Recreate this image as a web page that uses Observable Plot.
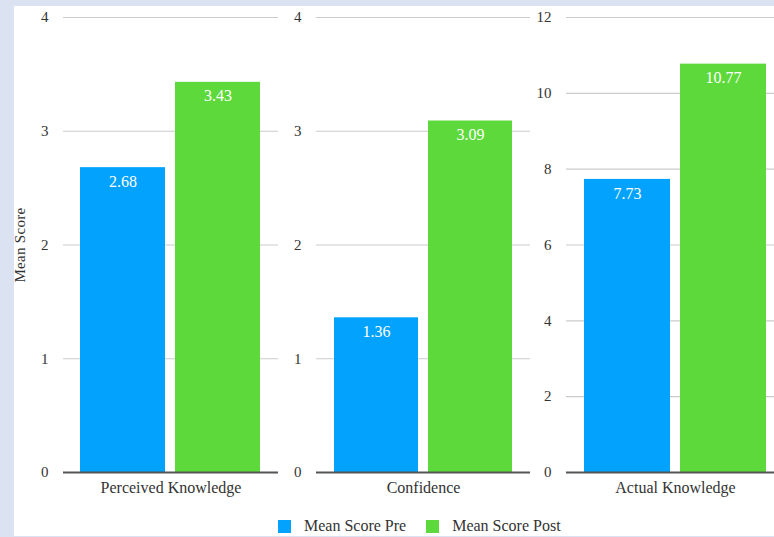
<!DOCTYPE html>
<html>
<head>
<meta charset="utf-8">
<script src="https://cdn.jsdelivr.net/npm/d3@7"></script>
<script src="https://cdn.jsdelivr.net/npm/@observablehq/plot@0.6"></script>
<style>
  html, body { margin: 0; padding: 0; width: 774px; height: 537px; overflow: hidden; background: #dbe3f3; }
  #page { position: relative; width: 774px; height: 537px; font-family: "Liberation Serif", serif; }
  #white { position: absolute; left: 14px; top: 6px; width: 760px; height: 530px; background: #fff; }
  .panel { position: absolute; top: 0; }
  #ylab { position: absolute; left: 20px; top: 245px; transform: translate(-50%, -50%) rotate(-90deg); font-size: 15px; letter-spacing: 0.3px; color: #333; white-space: nowrap; }
  #legend { position: absolute; top: 517px; left: 278px; display: flex; align-items: center; font-size: 16px; line-height: 18px; color: #333; }
  #legend .sw { width: 13px; height: 13px; display: inline-block; margin-right: 13px; }
  #legend .item { display: flex; align-items: center; margin-right: 20px; }
</style>
</head>
<body>
<div id="page">
  <div id="white"></div>
  <div id="ylab">Mean Score</div>
  <div id="legend"></div>
</div>
<script>
const categories = ["Perceived Knowledge", "Confidence", "Actual Knowledge"];
const series = ["Mean Score Pre", "Mean Score Post"];
const preValues = [2.68, 1.36, 7.73];
const postValues = [3.43, 3.09, 10.77];
const yMax = [4, 4, 12];
const yTicks = [[0, 1, 2, 3, 4], [0, 1, 2, 3, 4], [0, 2, 4, 6, 8, 10, 12]];
const colors = ["#03a2fd", "#5ed93b"];

const layouts = [
  {left: 14, width: 266, marginLeft: 49, marginRight: 2},
  {left: 280, width: 252, marginLeft: 36, marginRight: 2},
  {left: 532, width: 252, marginLeft: 34, marginRight: 0}
];

const page = document.getElementById("page");

categories.forEach((cat, i) => {
  const rows = [
    {series: series[0], value: preValues[i]},
    {series: series[1], value: postValues[i]}
  ];
  const L = layouts[i];
  const chart = Plot.plot({
    width: L.width,
    height: 510,
    marginLeft: L.marginLeft,
    marginRight: L.marginRight,
    marginTop: 17,
    marginBottom: 38,
    style: {fontFamily: "Liberation Serif, serif", fontSize: "15px", color: "#333", background: "transparent"},
    x: {domain: series, paddingInner: 0.105, paddingOuter: 0.18, axis: null},
    y: {domain: [0, yMax[i]], ticks: yTicks[i], axis: null},
    color: {domain: series, range: colors},
    marks: [
      Plot.gridY(yTicks[i], {stroke: "#cccccc", strokeOpacity: 1, strokeWidth: 1.2}),
      Plot.axisY(yTicks[i], {tickSize: 0, tickPadding: 15, label: null, fontSize: 15, tickFormat: d => String(d), fill: "#333"}),
      Plot.barY(rows, {x: "series", y: "value", fill: "series"}),
      Plot.ruleY([0], {stroke: "#555", strokeWidth: 2}),
      Plot.text(rows, {x: "series", y: "value", text: d => d.value.toFixed(2), dy: 14, fill: "white", fontSize: 16}),
      Plot.text([cat], {text: d => d, frameAnchor: "bottom", dy: 20, fill: "#333", fontSize: 16, style: "letter-spacing: 0.5px"})
    ]
  });
  chart.classList.add("panel");
  chart.style.left = L.left + "px";
  page.appendChild(chart);
});

const legend = document.getElementById("legend");
series.forEach((s, k) => {
  const item = document.createElement("div");
  item.className = "item";
  const sw = document.createElement("span");
  sw.className = "sw";
  sw.style.background = colors[k];
  const t = document.createElement("span");
  t.textContent = s;
  item.appendChild(sw);
  item.appendChild(t);
  legend.appendChild(item);
});
</script>
</body>
</html>
